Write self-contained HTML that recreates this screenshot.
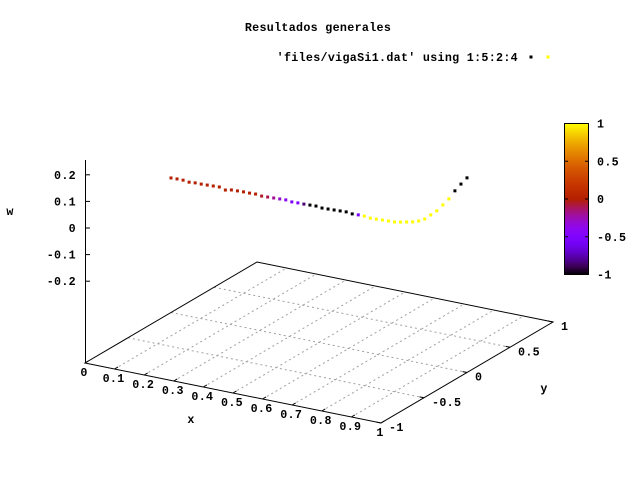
<!DOCTYPE html>
<html><head><meta charset="utf-8"><style>
body{margin:0;background:#fff}
svg text{font-family:"Liberation Mono",monospace;font-weight:bold;font-size:11.7px;letter-spacing:0.3px;fill:#000}
</style></head><body>
<svg id="c" width="640" height="480" viewBox="0 0 640 480" xmlns="http://www.w3.org/2000/svg">
<text x="318" y="31" text-anchor="middle">Resultados generales</text>
<text x="518" y="61" text-anchor="end">'files/vigaSi1.dat' using 1:5:2:4</text>
<text x="10" y="215" text-anchor="middle">w</text>
<text x="191" y="423" text-anchor="middle">x</text>
<text x="544" y="392" text-anchor="middle">y</text>
<g id="grid"></g>
<g id="axes"></g>
<g id="pts"></g>
<g id="cb"></g>
</svg>
<script>
const xVals=[];for(let i=0;i<50;i++)xVals.push(i/49);
const wVals=[0.002,0.003,0.003,0,0.002,0.002,0.003,0.004,0.005,-0.002,0.003,0.004,0.005,0.005,0.006,0.003,0.004,0.005,0.006,0.007,0.004,0.005,0.005,0.006,0.007,0.004,0.005,0.006,0.007,0.008,0.005,0.006,0.006,0.003,0.004,0.005,0.006,0.007,0.011,0.016,0.021,0.029,0.041,0.061,0.081,0.108,0.135,0.17,0.2,0.228];
const cVals=[0,0,0,0,0,0,0,0,0,0,0,0,0,0,0,-0.05,-0.1,-0.2,-0.3,-0.4,-0.5,-0.5,-0.85,-1,-1,-1,-1,-1,-1,-1,-1,-0.55,1,1,1,1,1,1,1,1,1,1,1,1,1,1,1,-1,-1,-1];
const xTicks=["0","0.1","0.2","0.3","0.4","0.5","0.6","0.7","0.8","0.9","1"];
const yTicks=["-1","-0.5","0","0.5","1"];
const zTicks=["0.2","0.1","0","-0.1","-0.2"];
const cbTicks=["1","0.5","0","-0.5","-1"];
const NS="http://www.w3.org/2000/svg";
function mk(tag,attrs,parent){const e=document.createElementNS(NS,tag);for(const k in attrs)e.setAttribute(k,attrs[k]);parent.appendChild(e);return e;}
const FL=[85,363],FR=[381,423],BL=[257,262];
function P(x,y,w){const t=(y+1)/2;return [FL[0]+x*(FR[0]-FL[0])+t*(BL[0]-FL[0]),FL[1]+x*(FR[1]-FL[1])+t*(BL[1]-FL[1])-134-w*266];}
function B(x,y){const p=P(x,y,0);return [p[0],p[1]+134];}
function pal(c){const g=Math.max(0,Math.min(1,(c+1)/2));const r=Math.sqrt(g),gg=g*g*g,b=Math.max(0,Math.sin(2*Math.PI*g));return `rgb(${Math.round(r*255)},${Math.round(gg*255)},${Math.round(b*255)})`;}
const grid=document.getElementById('grid'),axes=document.getElementById('axes');
for(let i=1;i<10;i++){const a=B(i/10,-1),b=B(i/10,1);const l=mk('line',{x1:a[0],y1:a[1],x2:b[0],y2:b[1],stroke:'#a0a0a0','stroke-width':1,'stroke-dasharray':'2,3'},grid);}
[-0.5,0,0.5].forEach(y=>{const a=B(0,y),b=B(1,y);const l=mk('line',{x1:a[0],y1:a[1],x2:b[0],y2:b[1],stroke:'#a0a0a0','stroke-width':1,'stroke-dasharray':'2,3'},grid);});
const c1=B(0,-1),c2=B(1,-1),c3=B(1,1),c4=B(0,1);
const border=mk('polygon',{points:[c1,c2,c3,c4].map(p=>p.join(',')).join(' '),fill:'none',stroke:'#000','stroke-width':1},axes);

const za=mk('line',{x1:85.5,y1:160,x2:85.5,y2:363,stroke:'#000'},axes);

zTicks.forEach(s=>{const v=parseFloat(s);const y=228-v*266;mk('line',{x1:85.5,y1:y,x2:90,y2:y,stroke:'#000'},axes);const t=mk('text',{x:76,y:y+4,'text-anchor':'end'},axes);t.textContent=s;});
xTicks.forEach(s=>{const v=parseFloat(s);const a=B(v,-1),b=B(v,-0.96);mk('line',{x1:a[0],y1:a[1],x2:b[0],y2:b[1],stroke:'#000'},axes);const t=mk('text',{x:a[0]-1,y:a[1]+13,'text-anchor':'middle'},axes);t.textContent=s;});
yTicks.forEach(s=>{const v=parseFloat(s);const a=B(1,v),b=B(0.985,v);mk('line',{x1:a[0],y1:a[1],x2:b[0],y2:b[1],stroke:'#000'},axes);const t=mk('text',{x:a[0]+8,y:a[1]+8,'text-anchor':'start'},axes);t.textContent=s;});
const pts=document.getElementById('pts');
xVals.forEach((x,i)=>{const p=P(x,0,wVals[i]);const r=mk('rect',{x:p[0]-1.5,y:p[1]-1.5,width:3,height:3,fill:pal(cVals[i])},pts);});
[[531,-1],[548,1]].forEach(([x,c])=>{const r=mk('rect',{x:x-1.5,y:55.5,width:3,height:3,fill:pal(c)},pts);});
const cb=document.getElementById('cb');
const defs=mk('defs',{},cb);const lg=mk('linearGradient',{id:'g',x1:0,y1:1,x2:0,y2:0},defs);
for(let k=0;k<=20;k++)mk('stop',{offset:k/20,'stop-color':pal(-1+k/10)},lg);
const bar=mk('rect',{x:564.5,y:123.5,width:24,height:151,fill:'url(#g)',stroke:'#000'},cb);

cbTicks.forEach(s=>{const v=parseFloat(s);const y=199-v*75.5;mk('line',{x1:564.5,y1:y,x2:568,y2:y,stroke:'#000'},cb);mk('line',{x1:585,y1:y,x2:588.5,y2:y,stroke:'#000'},cb);const t=mk('text',{x:597,y:y+4},cb);t.textContent=s;});
</script>
</body></html>
